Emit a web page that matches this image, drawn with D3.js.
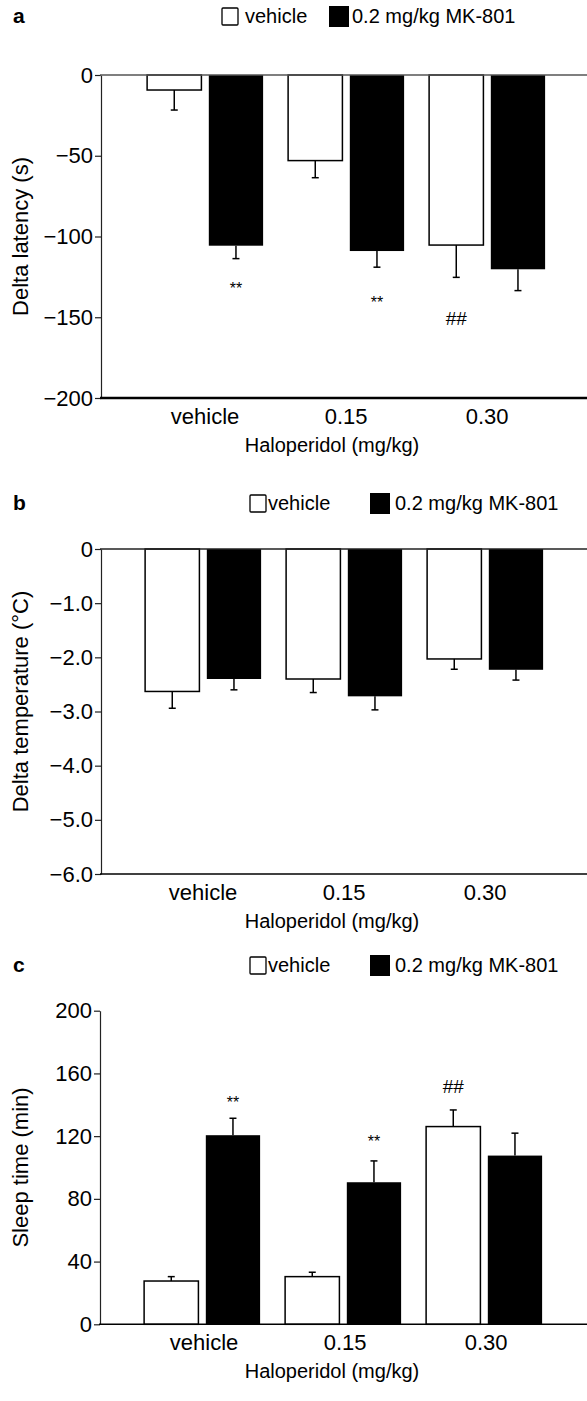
<!DOCTYPE html>
<html>
<head>
<meta charset="utf-8">
<script src="https://cdn.jsdelivr.net/npm/d3@7"></script>
<style>
html,body{margin:0;padding:0;background:#fff;}
svg{display:block;font-family:"Liberation Sans",Arial,Helvetica,sans-serif;}
</style>
</head>
<body>
<svg id="chart" width="587" height="1401"></svg>
<script>
// ---------- data ----------
const categories = ["vehicle", "0.15", "0.30"];
const seriesNames = ["vehicle", "0.2 mg/kg MK-801"];
const xAxisTitle = "Haloperidol (mg/kg)";

// Panel a: Delta latency (s)
const latencyVehicle = [-9.3, -53.0, -105.3];
const latencyVehicleSE = [12.4, 10.6, 20.0];
const latencyMK = [-105.7, -109.0, -120.3];
const latencyMKSE = [8.0, 10.0, 13.2];
const latencyTicks = [0, -50, -100, -150, -200];
const latencyMarks = [
  {cat: "vehicle", series: 1, text: "**", value: -132.5},
  {cat: "0.15", series: 1, text: "**", value: -141},
  {cat: "0.30", series: 0, text: "##", value: -151}
];

// Panel b: Delta temperature (°C)
const tempVehicle = [-2.63, -2.40, -2.03];
const tempVehicleSE = [0.31, 0.25, 0.19];
const tempMK = [-2.40, -2.72, -2.23];
const tempMKSE = [0.20, 0.25, 0.19];
const tempTicks = [0, -1, -2, -3, -4, -5, -6];

// Panel c: Sleep time (min)
const sleepVehicle = [27.6, 30.4, 126.1];
const sleepVehicleSE = [2.8, 2.8, 10.6];
const sleepMK = [120.6, 90.6, 107.6];
const sleepMKSE = [10.8, 13.6, 14.3];
const sleepTicks = [0, 40, 80, 120, 160, 200];
const sleepMarks = [
  {cat: "vehicle", series: 1, text: "**", value: 141.4},
  {cat: "0.15", series: 1, text: "**", value: 116.9},
  {cat: "0.30", series: 0, text: "##", value: 151.6}
];

// ---------- drawing ----------
const svg = d3.select("#chart");
const FONT = 22;

function panel(cfg) {
  const g = svg.append("g");
  const left = cfg.left, right = 587;
  const y = d3.scaleLinear().domain(cfg.domain).range([cfg.yTop, cfg.yBottom]);
  const x = d3.scaleBand().domain(categories)
    .range([left + cfg.xShift, left + cfg.xShift + 141 * 3.42]).paddingOuter(0.21).paddingInner(0);
  const xs = d3.scaleBand().domain([0, 1]).range([-58, 58]).paddingInner(0.12).paddingOuter(0);

  // panel letter
  g.append("text").attr("x", 13).attr("y", cfg.legendY + 7)
    .attr("font-size", 21).attr("font-weight", "bold").text(cfg.letter);

  // legend
  const L = cfg.legend;
  const lg = g.append("g");
  lg.append("rect").attr("x", L.sq0).attr("y", cfg.legendY - 8).attr("width", 16).attr("height", 17)
    .attr("fill", "#fff").attr("stroke", "#000").attr("stroke-width", 1.3).attr("rx", 1);
  lg.append("text").attr("x", L.t0).attr("y", cfg.legendY + 7).attr("font-size", 20).text(seriesNames[0]);
  lg.append("rect").attr("x", L.sq1).attr("y", cfg.legendY - 10).attr("width", 20).attr("height", 21)
    .attr("fill", "#000");
  lg.append("text").attr("x", L.t1).attr("y", cfg.legendY + 7).attr("font-size", 20).text(seriesNames[1]);

  const series = [
    {vals: cfg.v0, se: cfg.se0, fill: "#fff"},
    {vals: cfg.v1, se: cfg.se1, fill: "#000"}
  ];

  // bars
  series.forEach((s, si) => {
    categories.forEach((c, ci) => {
      const cx = x(c) + x.bandwidth() / 2;
      const bx = cx + xs(si);
      const v = s.vals[ci];
      const y0 = y(0), y1 = y(v);
      g.append("rect")
        .attr("x", bx).attr("y", Math.min(y0, y1))
        .attr("width", xs.bandwidth()).attr("height", Math.abs(y1 - y0))
        .attr("fill", s.fill).attr("stroke", "#000").attr("stroke-width", si === 0 ? 1.5 : 0);
      // one-sided error bar
      const ecx = bx + xs.bandwidth() / 2;
      const ev = v < 0 ? v - s.se[ci] : v + s.se[ci];
      g.append("line").attr("x1", ecx).attr("x2", ecx).attr("y1", y1).attr("y2", y(ev))
        .attr("stroke", "#000").attr("stroke-width", 1.5);
      g.append("line").attr("x1", ecx - 3.5).attr("x2", ecx + 3.5).attr("y1", y(ev)).attr("y2", y(ev))
        .attr("stroke", "#000").attr("stroke-width", 1.5);
    });
  });

  // significance marks
  (cfg.marks || []).forEach(m => {
    const cx = x(m.cat) + x.bandwidth() / 2 + xs(m.series) + xs.bandwidth() / 2;
    g.append("text").attr("x", cx).attr("y", y(m.value)).attr("text-anchor", "middle")
      .attr("dominant-baseline", "central")
      .attr("font-size", m.text === "##" ? 19 : 16)
      .attr("fill", "#000")
      .text(m.text);
  });

  // y axis
  const yAxis = d3.axisLeft(y).tickValues(cfg.ticks).tickSize(6).tickSizeOuter(0)
    .tickFormat(cfg.fmt);
  const ya = g.append("g").attr("transform", `translate(${left},0)`).call(yAxis);
  ya.select(".domain").attr("stroke", "#222").attr("stroke-width", 1.2);
  ya.selectAll(".tick line").attr("stroke", "#222").attr("stroke-width", 1.2);
  ya.selectAll(".tick text").attr("font-size", FONT).attr("font-family", "'Liberation Sans', Arial, sans-serif")
    .attr("fill", "#000").attr("x", -8);

  // horizontal lines: zero line and bottom axis
  cfg.hlines.forEach(h => {
    g.append("line").attr("x1", left - 1).attr("x2", right).attr("y1", y(h.v)).attr("y2", y(h.v))
      .attr("stroke", h.color).attr("stroke-width", h.w);
  });

  // category labels
  const bottom = cfg.yBottom;
  categories.forEach(c => {
    g.append("text").attr("x", x(c) + x.bandwidth() / 2 + cfg.labelShift).attr("y", bottom + 26)
      .attr("text-anchor", "middle").attr("font-size", FONT).text(c);
  });
  g.append("text").attr("x", 332).attr("y", bottom + 54).attr("text-anchor", "middle")
    .attr("font-size", 20).text(xAxisTitle);

  // y title
  g.append("text")
    .attr("transform", `translate(28,${(cfg.yTop + cfg.yBottom) / 2 + cfg.titleShift}) rotate(-90)`)
    .attr("text-anchor", "middle").attr("font-size", FONT).text(cfg.ytitle);
}

panel({
  letter: "a", legendY: 16, left: 101, xShift: 4,
  legend: {sq0: 222, t0: 245, sq1: 329, t1: 352},
  domain: [0, -200], yTop: 75, yBottom: 398,
  ticks: latencyTicks, fmt: d3.format("d"),
  v0: latencyVehicle, se0: latencyVehicleSE, v1: latencyMK, se1: latencyMKSE,
  marks: latencyMarks,
  hlines: [{v: 0, color: "#555", w: 1.3}, {v: -200, color: "#000", w: 2.5}],
  ytitle: "Delta latency (s)", titleShift: 0, labelShift: 0
});

panel({
  letter: "b", legendY: 503, left: 101, xShift: 2,
  legend: {sq0: 250, t0: 268, sq1: 370, t1: 395},
  domain: [0, -6], yTop: 549, yBottom: 874,
  ticks: tempTicks, fmt: d => d === 0 ? "0" : d3.format(".1f")(d),
  v0: tempVehicle, se0: tempVehicleSE, v1: tempMK, se1: tempMKSE,
  marks: [],
  hlines: [{v: 0, color: "#222", w: 1.3}, {v: -6, color: "#000", w: 1.5}],
  ytitle: "Delta temperature (°C)", titleShift: -10, labelShift: 0
});

panel({
  letter: "c", legendY: 965, left: 100, xShift: 2,
  legend: {sq0: 250, t0: 268, sq1: 370, t1: 395},
  domain: [200, 0], yTop: 1010.7, yBottom: 1324.3,
  ticks: sleepTicks, fmt: d3.format("d"),
  v0: sleepVehicle, se0: sleepVehicleSE, v1: sleepMK, se1: sleepMKSE,
  marks: sleepMarks,
  hlines: [{v: 0, color: "#000", w: 1.5}],
  ytitle: "Sleep time (min)", titleShift: 0, labelShift: 2
});
</script>
</body>
</html>
